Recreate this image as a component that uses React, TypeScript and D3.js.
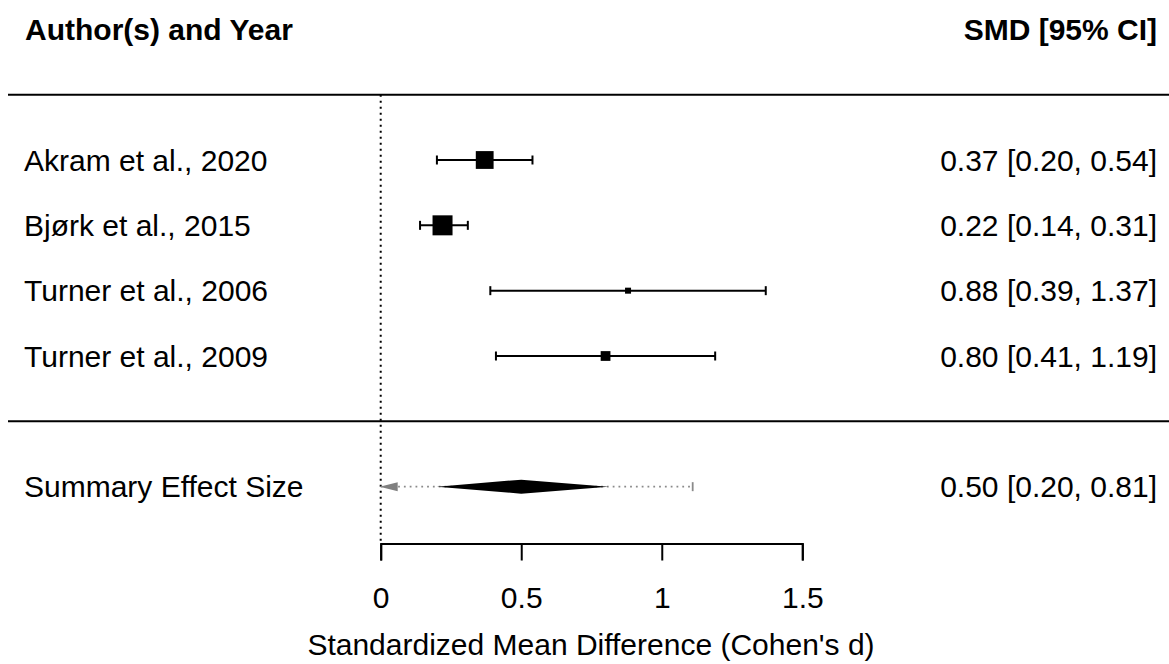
import { useEffect, useRef } from 'react';
import * as d3 from 'd3';

const studies = ['Akram et al., 2020', 'Bjørk et al., 2015', 'Turner et al., 2006', 'Turner et al., 2009'];
const smd = [0.37, 0.22, 0.88, 0.8];
const ciLower = [0.2, 0.14, 0.39, 0.41];
const ciUpper = [0.54, 0.31, 1.37, 1.19];
const weights = [29.4, 31.5, 18.1, 21.7];

const summaryLabel = 'Summary Effect Size';
const summaryEst = 0.5;
const summaryCi = [0.2, 0.81];
const predInterval = [-0.11, 1.11];

const xTicks = [0, 0.5, 1, 1.5];
const headers = ['Author(s) and Year', 'SMD [95% CI]'];
const xTitle = "Standardized Mean Difference (Cohen's d)";

const FONT = '"Liberation Sans", Arial, sans-serif';

export default function App() {
  const svgRef = useRef<SVGSVGElement>(null);

  useEffect(() => {
    if (!svgRef.current) return;
    const width = 1169;
    const height = 664;
    const fs = 30;
    const capMid = fs * 0.36;
    const lw = 2;

    const svg = d3.select(svgRef.current).attr('width', width).attr('height', height);
    svg.selectAll('*').remove();

    const x = d3.scaleLinear().domain([0, 1.5]).range([380.7, 802.3]);
    // row positions (metafor-style: studies k..1, summary at -1)
    const row = d3.scaleLinear().domain([1, 4]).range([356, 160]);
    const k = studies.length;
    const fmt = d3.format('.2f');
    const size = d3.scaleLinear().domain(d3.extent(weights) as [number, number]).range([6, 20]);

    const g = svg.append('g').attr('font-family', FONT).attr('font-size', fs);

    // header
    g.append('text').attr('x', 25).attr('y', row(6) + capMid).attr('font-weight', 'bold').text(headers[0]);
    g.append('text').attr('x', 1157).attr('y', row(6) + capMid).attr('font-weight', 'bold')
      .attr('text-anchor', 'end').text(headers[1]);

    // horizontal separators
    [k + 1, 0].forEach(r => {
      g.append('line').attr('x1', 8).attr('x2', width).attr('y1', row(r)).attr('y2', row(r))
        .attr('stroke', '#000').attr('stroke-width', lw);
    });

    const axisY = row(-1.87);

    // reference line at 0
    g.append('line').attr('x1', x(0)).attr('x2', x(0)).attr('y1', row(k + 1)).attr('y2', axisY)
      .attr('stroke', '#000').attr('stroke-width', 2).attr('stroke-dasharray', '2,4');

    // studies
    studies.forEach((s, i) => {
      const y = row(k - i);
      g.append('text').attr('x', 24).attr('y', y + capMid).text(s);
      g.append('text').attr('x', 1157).attr('y', y + capMid).attr('text-anchor', 'end')
        .text(`${fmt(smd[i])} [${fmt(ciLower[i])}, ${fmt(ciUpper[i])}]`);
      g.append('line').attr('x1', x(ciLower[i])).attr('x2', x(ciUpper[i])).attr('y1', y).attr('y2', y)
        .attr('stroke', '#000').attr('stroke-width', lw);
      [ciLower[i], ciUpper[i]].forEach(v => {
        g.append('line').attr('x1', x(v)).attr('x2', x(v)).attr('y1', y - 4.5).attr('y2', y + 4.5)
          .attr('stroke', '#000').attr('stroke-width', lw);
      });
      const sz = size(weights[i]);
      g.append('rect').attr('x', x(smd[i]) - sz / 2).attr('y', y - sz / 2)
        .attr('width', sz).attr('height', sz).attr('fill', '#000');
    });

    // summary row
    const ys = row(-1);
    g.append('text').attr('x', 24).attr('y', ys + capMid).text(summaryLabel);
    g.append('text').attr('x', 1157).attr('y', ys + capMid).attr('text-anchor', 'end')
      .text(`${fmt(summaryEst)} [${fmt(summaryCi[0])}, ${fmt(summaryCi[1])}]`);

    const piLo = Math.max(predInterval[0], x.domain()[0]);
    const piHi = Math.min(predInterval[1], x.domain()[1]);
    g.append('line').attr('x1', x(piLo)).attr('x2', x(piHi)).attr('y1', ys).attr('y2', ys)
      .attr('stroke', '#8a8a8a').attr('stroke-width', 1.8).attr('stroke-dasharray', '1.8,4');
    if (predInterval[0] < x.domain()[0]) {
      const x0 = x(x.domain()[0]);
      g.append('path')
        .attr('d', `M${x0 - 1},${ys} L${x0 + 17},${ys - 4.5} L${x0 + 17},${ys + 4.5} Z`)
        .attr('fill', '#808080');
    }
    if (predInterval[1] <= x.domain()[1]) {
      g.append('line').attr('x1', x(piHi)).attr('x2', x(piHi)).attr('y1', ys - 4.5).attr('y2', ys + 4.5)
        .attr('stroke', '#8a8a8a').attr('stroke-width', 1.8);
    }
    g.append('path')
      .attr('d', `M${x(summaryCi[0])},${ys} L${x(summaryEst)},${ys - 7} L${x(summaryCi[1])},${ys} L${x(summaryEst)},${ys + 7} Z`)
      .attr('fill', '#000');

    // x axis
    const axis = g.append('g').attr('transform', `translate(0,${axisY})`)
      .call(d3.axisBottom(x).tickValues(xTicks).tickFormat(d3.format('')).tickSizeOuter(0).tickSize(17).tickPadding(26));
    axis.select('.domain').attr('stroke-width', lw);
    axis.selectAll('.tick line').attr('stroke-width', lw);
    axis.selectAll('.tick text').attr('font-size', fs).attr('font-family', FONT).attr('fill', '#000');

    g.append('text').attr('x', 591).attr('y', 655).attr('text-anchor', 'middle').text(xTitle);
  }, []);

  return <svg ref={svgRef} style={{ position: 'absolute', left: 0, top: 0, background: '#fff' }} />;
}
